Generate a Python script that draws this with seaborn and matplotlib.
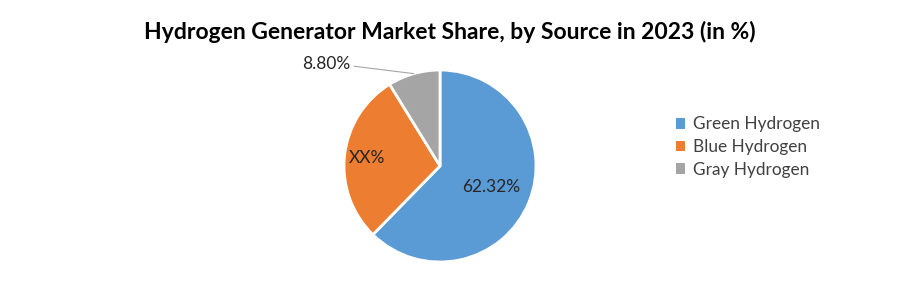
import numpy as np
import matplotlib
matplotlib.use("Agg")
import matplotlib.pyplot as plt
import seaborn as sns
from matplotlib.patches import Patch

categories = ["Green Hydrogen", "Blue Hydrogen", "Gray Hydrogen"]
values = [62.32, 28.88, 8.80]
value_labels = ["62.32%", "XX%", "8.80%"]
colors = ["#5B9BD5", "#ED7D31", "#A5A5A5"]
title = "Hydrogen Generator Market Share, by Source in 2023 (in %)"

sns.set_theme(style="white")
plt.rcParams['font.family'] = ['Lato', 'DejaVu Sans']

fig = plt.figure(figsize=(9, 3), dpi=100)
fig.patch.set_facecolor("white")

cx, cy, r = 440, 166, 96
ax = fig.add_axes([(cx - r) / 900, (300 - cy - r) / 300, 2 * r / 900, 2 * r / 300])
wedges, _ = ax.pie(values, colors=colors, startangle=90, counterclock=False,
                   wedgeprops=dict(edgecolor="white", linewidth=2))
ax.set_xlim(-1, 1)
ax.set_ylim(-1, 1)
ax.set_aspect("equal")
ax.axis("off")

label_r = [0.58, 0.76, None]
for w, lab, lr in zip(wedges, value_labels, label_r):
    mid = np.deg2rad((w.theta1 + w.theta2) / 2)
    x, y = np.cos(mid), np.sin(mid)
    if lr is not None:
        ax.text(lr * x, lr * y, lab, ha="center", va="center", fontsize=12.5, color="#262626")
    else:
        ax.annotate(lab, xy=(x, y), xytext=(-1.18, 1.06), ha="center", va="center",
                    fontsize=12.5, color="#262626", annotation_clip=False,
                    arrowprops=dict(arrowstyle="-", color="#A6A6A6", lw=0.8,
                                    shrinkA=0, shrinkB=0, relpos=(1.0, 0.4)))

fig.suptitle(title, x=0.5, y=1 - 32 / 300, va="center", fontsize=16.5, fontweight="bold", color="black")

handles = [Patch(facecolor=c, edgecolor="none") for c in colors]
fig.legend(handles, categories, loc="center left", bbox_to_anchor=(676 / 900, 1 - 147 / 300),
           frameon=False, fontsize=12.4, handlelength=0.55, handleheight=0.55,
           handletextpad=0.45, labelspacing=0.38, borderpad=0, borderaxespad=0,
           labelcolor="#404040")

fig.savefig("out.png", dpi=100, facecolor="white")
